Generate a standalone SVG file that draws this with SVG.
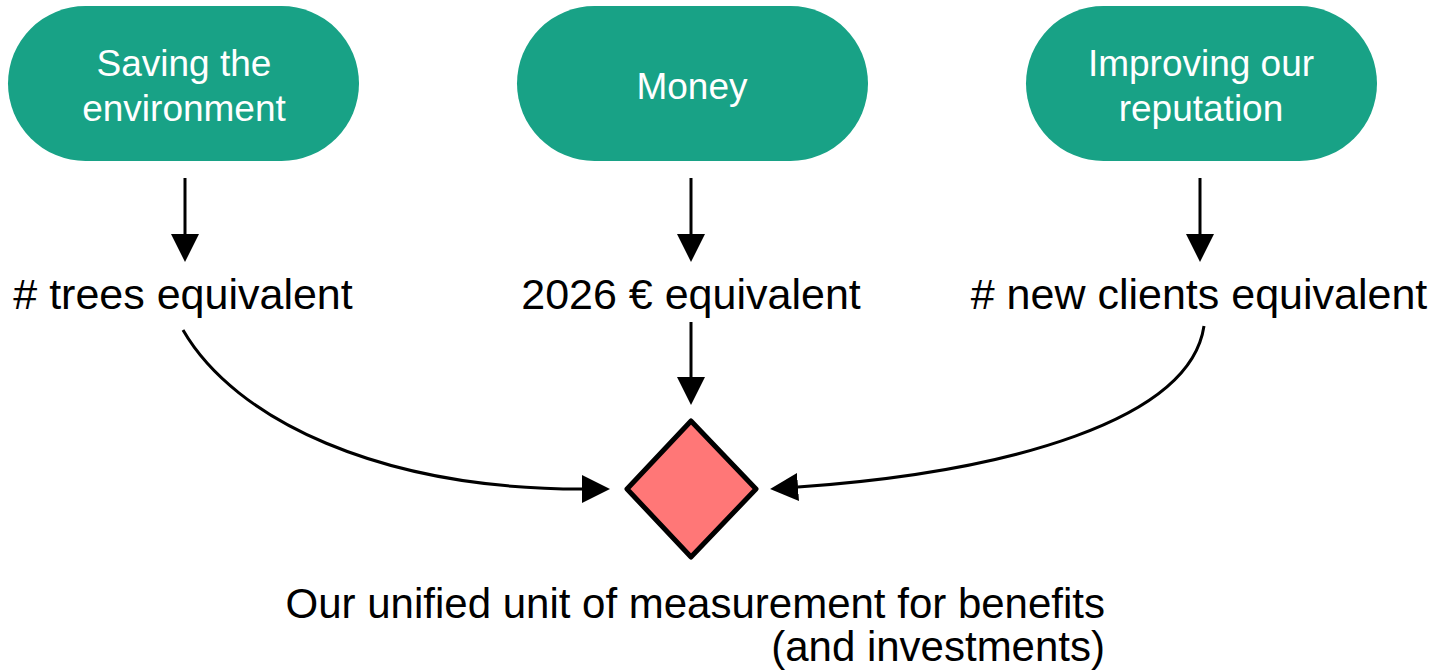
<svg xmlns="http://www.w3.org/2000/svg" width="1435" height="671" viewBox="0 0 1435 671">
<style>
.pill{fill:#18a286}
.pt{font-family:"Liberation Sans",Arial,sans-serif;font-size:37px;fill:#ffffff;text-anchor:middle}
.lbl{font-family:"Liberation Sans",Arial,sans-serif;font-size:43px;fill:#000000;text-anchor:middle}
.cap{font-family:"Liberation Sans",Arial,sans-serif;font-size:42px;fill:#000000;text-anchor:end}
.con{fill:none;stroke:#000;stroke-width:3}
</style>
<defs>
<marker id="ah" viewBox="0 0 28 28" refX="0" refY="14" markerWidth="28" markerHeight="28" markerUnits="userSpaceOnUse" orient="auto">
<path d="M0,0 L28,14 L0,28 z" fill="#000"/>
</marker>
</defs>
<rect width="1435" height="671" fill="#ffffff"/>
<g id="node-environment">
<rect class="pill" x="8" y="6" width="351" height="155" rx="77.5"/>
<text class="pt" x="184" y="76">Saving the</text>
<text class="pt" x="184" y="121">environment</text>
</g>
<g id="node-money">
<rect class="pill" x="517" y="6" width="351" height="155" rx="77.5"/>
<text class="pt" x="692" y="99">Money</text>
</g>
<g id="node-reputation">
<rect class="pill" x="1026" y="6" width="351" height="155" rx="77.5"/>
<text class="pt" x="1201" y="76">Improving our</text>
<text class="pt" x="1201" y="121">reputation</text>
</g>
<g id="label-trees"><text class="lbl" x="183" y="309"># trees equivalent</text></g>
<g id="label-euro"><text class="lbl" x="691" y="309">2026 € equivalent</text></g>
<g id="label-clients"><text class="lbl" x="1199" y="309"># new clients equivalent</text></g>
<g id="node-unit">
<polygon points="691,421 756,489 691,557 627,489" fill="#ff7777" stroke="#000" stroke-width="5" stroke-linejoin="round"/>
<text class="cap" x="1105" y="618">Our unified unit of measurement for benefits</text>
<text class="cap" x="1105" y="661">(and investments)</text>
</g>
<g id="connectors">
<path class="con" d="M185,178 L185,234" marker-end="url(#ah)"/>
<path class="con" d="M691,178 L691,234" marker-end="url(#ah)"/>
<path class="con" d="M1200,178 L1200,234" marker-end="url(#ah)"/>
<path class="con" d="M691,322 L691,377" marker-end="url(#ah)"/>
<path class="con" d="M183,330 C235,420 380,489 582,489" marker-end="url(#ah)"/>
<path class="con" d="M1204,326 C1190,420 1010,472 798,487" marker-end="url(#ah)"/>
</g>
</svg>
